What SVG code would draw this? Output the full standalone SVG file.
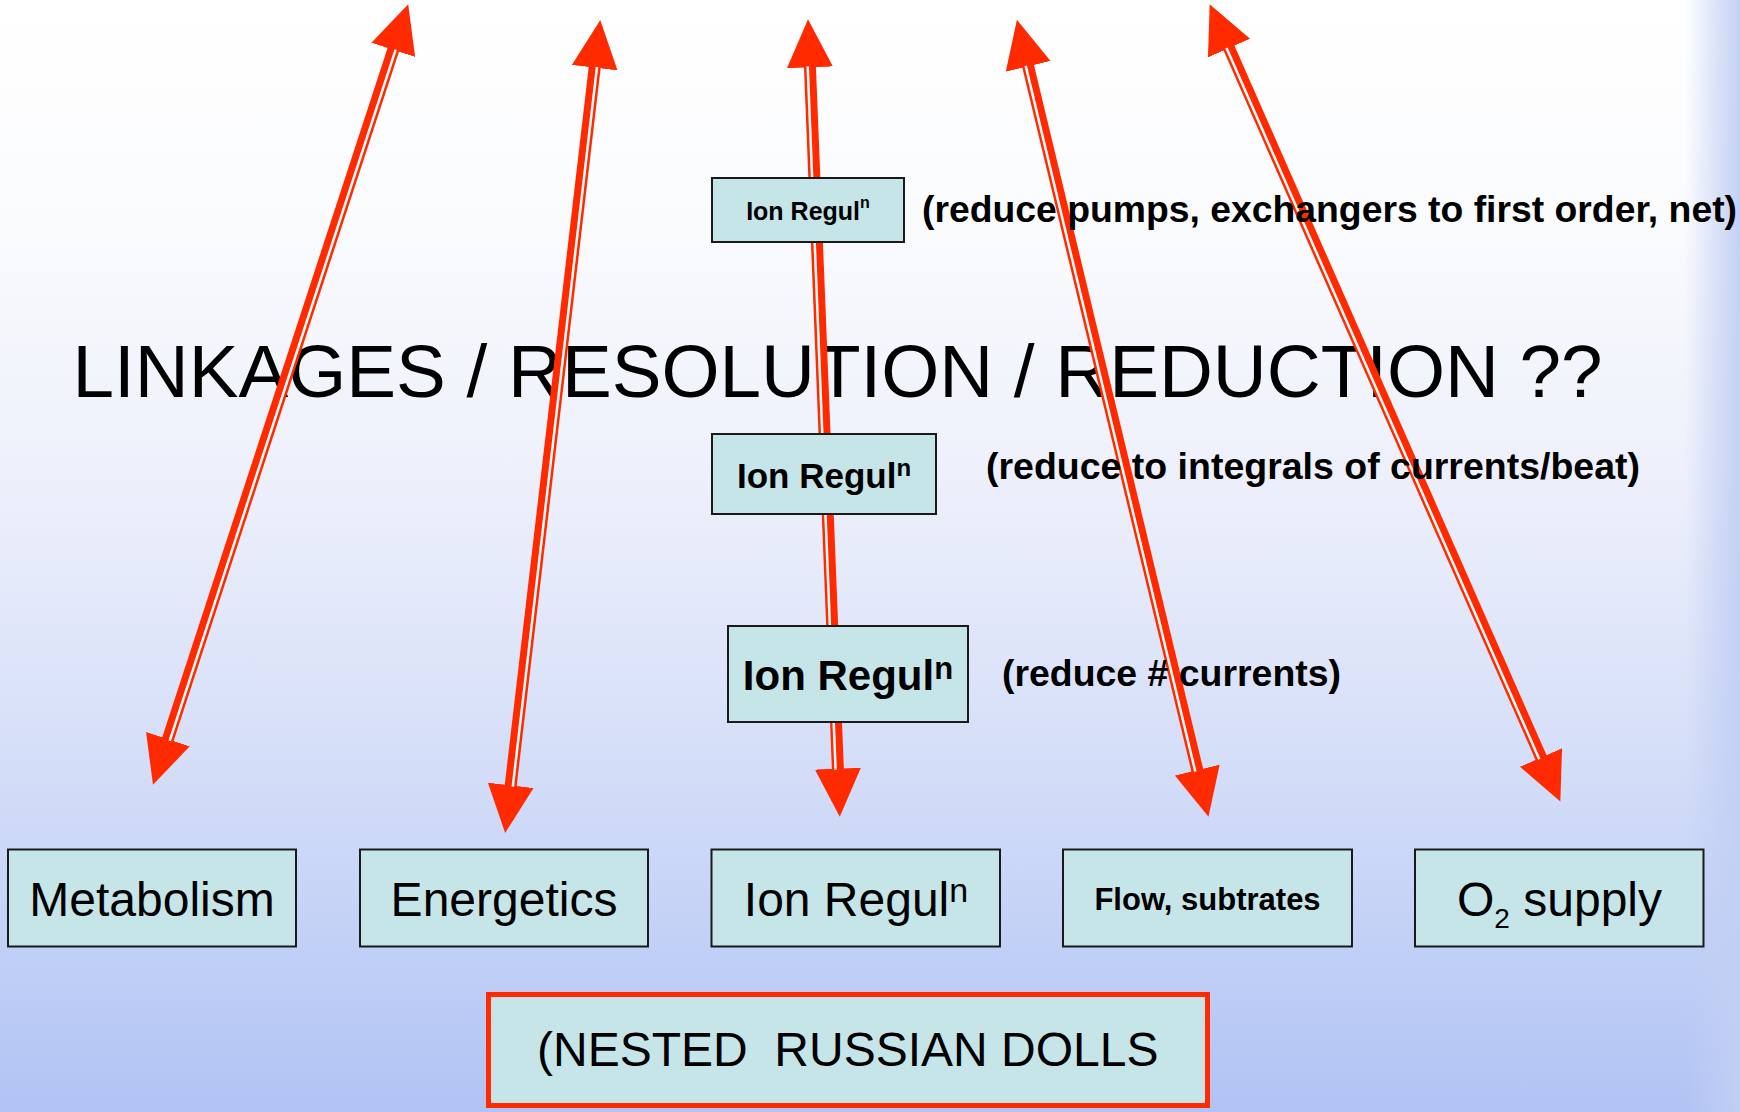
<svg xmlns="http://www.w3.org/2000/svg" width="1740" height="1112" viewBox="0 0 1740 1112">
<defs>
<linearGradient id="bg" x1="0" y1="0" x2="0" y2="1">
<stop offset="0" stop-color="#ffffff"/>
<stop offset="0.2" stop-color="#fafbfd"/>
<stop offset="0.45" stop-color="#eceffb"/>
<stop offset="0.7" stop-color="#d3ddf8"/>
<stop offset="1" stop-color="#b0c3f4"/>
</linearGradient>
<linearGradient id="edge" x1="0" y1="0" x2="1" y2="0">
<stop offset="0" stop-color="#c2cff4" stop-opacity="0"/>
<stop offset="0.6" stop-color="#c2cff4" stop-opacity="0.6"/>
<stop offset="1" stop-color="#c2cff4" stop-opacity="0.95"/>
</linearGradient>
<marker id="ah" markerUnits="userSpaceOnUse" viewBox="0 -24 49 48" markerWidth="49" markerHeight="48" refX="1" refY="0" orient="auto-start-reverse">
<path d="M0,-23 L48,0 L0,23 Z" fill="#ff2a00"/>
</marker>
<style>
.box{fill:#c6e5e8;stroke:#1a1a1a;stroke-width:2}
.t{font-family:"Liberation Sans",Arial,sans-serif;fill:#000}
.b{font-weight:bold}
.a{stroke:#ff2a00;stroke-width:12;fill:none;marker-start:url(#ah);marker-end:url(#ah)}
.g{stroke:#ffffff;stroke-width:2.5;fill:none}
</style>
</defs>
<rect x="0" y="0" width="1740" height="1112" fill="url(#bg)"/>
<rect x="1685" y="0" width="55" height="1112" fill="url(#edge)"/>

<g id="title">
<text class="t" x="72.6" y="397" font-size="74.5" textLength="1530" lengthAdjust="spacingAndGlyphs">LINKAGES / RESOLUTION / REDUCTION ??</text>
</g>

<g id="connectors">
<line class="a" x1="393.6" y1="48.9" x2="167.6" y2="740.1"/>
<line class="g" x1="395.7" y1="49.6" x2="169.7" y2="740.8"/>
<line class="a" x1="594.8" y1="66.7" x2="510.6" y2="786.3"/>
<line class="g" x1="597.0" y1="67.0" x2="512.8" y2="786.6"/>
<line class="a" x1="809.9" y1="66.3" x2="837.9" y2="769.7"/>
<line class="g" x1="807.7" y1="66.4" x2="835.6" y2="769.8"/>
<line class="a" x1="1027.9" y1="65.4" x2="1197.5" y2="771.0"/>
<line class="g" x1="1025.7" y1="65.9" x2="1195.3" y2="771.5"/>
<line class="a" x1="1228.6" y1="47.2" x2="1541.4" y2="758.4"/>
<line class="g" x1="1226.5" y1="48.1" x2="1539.3" y2="759.3"/>
</g>

<g id="labels">
<text class="t b" x="922" y="222" font-size="37" textLength="815" lengthAdjust="spacingAndGlyphs">(reduce pumps, exchangers to first order, net)</text>
<text class="t b" x="986" y="479" font-size="37" textLength="654" lengthAdjust="spacingAndGlyphs">(reduce to integrals of currents/beat)</text>
<text class="t b" x="1002" y="686" font-size="37" textLength="339" lengthAdjust="spacingAndGlyphs">(reduce # currents)</text>
</g>

<g id="ion1">
<rect class="box" x="712" y="178" width="192" height="64"/>
<text class="t b" x="808" y="219.5" font-size="25" text-anchor="middle">Ion Regul<tspan font-size="16" dy="-12">n</tspan></text>
</g>
<g id="ion2">
<rect class="box" x="712" y="434" width="224" height="80"/>
<text class="t b" x="824" y="487.5" font-size="35" text-anchor="middle">Ion Regul<tspan font-size="24" dy="-12">n</tspan></text>
</g>
<g id="ion3">
<rect class="box" x="728" y="626" width="240" height="96"/>
<text class="t b" x="848" y="690" font-size="42" text-anchor="middle">Ion Regul<tspan font-size="31" dy="-11">n</tspan></text>
</g>

<g id="metabolism">
<rect class="box" x="8" y="849.5" width="288" height="97"/>
<text class="t" x="152" y="916" font-size="48" text-anchor="middle">Metabolism</text>
</g>
<g id="energetics">
<rect class="box" x="360" y="849.5" width="288" height="97"/>
<text class="t" x="504" y="916" font-size="48" text-anchor="middle">Energetics</text>
</g>
<g id="ionregul">
<rect class="box" x="711.5" y="849.5" width="288.5" height="97"/>
<text class="t" x="856" y="916" font-size="48" text-anchor="middle">Ion Regul<tspan font-size="34" dy="-14">n</tspan></text>
</g>
<g id="flow">
<rect class="box" x="1063" y="849.5" width="289" height="97"/>
<text class="t b" x="1207.5" y="910" font-size="31" text-anchor="middle">Flow, subtrates</text>
</g>
<g id="o2">
<rect class="box" x="1415" y="849.5" width="288.5" height="97"/>
<text class="t" x="1559.5" y="916" font-size="48" text-anchor="middle">O<tspan font-size="28" dy="12">2</tspan><tspan dy="-12"> supply</tspan></text>
</g>

<g id="nested">
<rect x="488.5" y="994.5" width="719" height="111" fill="#c6e5e8" stroke="#ff2a00" stroke-width="5"/>
<text class="t" x="537" y="1066" font-size="48">(NESTED&#160; RUSSIAN DOLLS</text>
</g>
</svg>
